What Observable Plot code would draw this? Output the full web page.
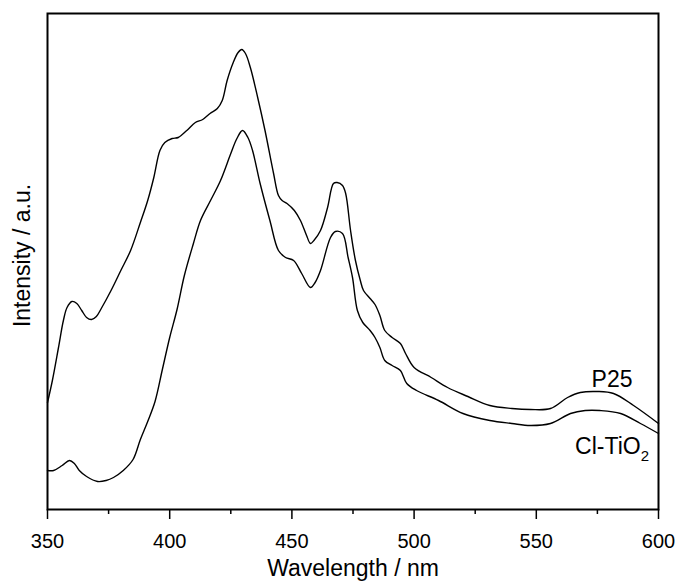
<!DOCTYPE html>
<html><head><meta charset="utf-8">
<script src="https://cdn.jsdelivr.net/npm/d3@7"></script>
<script src="https://cdn.jsdelivr.net/npm/@observablehq/plot@0.6"></script>
<style>body{margin:0;background:#fff} svg{font-family:"Liberation Sans",Arial,sans-serif}</style>
</head><body><div id="chart"></div>
<script>
const p25Wavelength = [350,352,354.5,356.5,358,360,362,364,366,368,370,372,376,380,384,388,391,393.5,396,398,401,403.5,407,410.5,413.5,416.5,419.5,421.5,423.5,426,428,429.5,431,433,436,439,442.5,444.5,446,448,451,453.5,456,457.6,459,461.7,464.6,467,468.5,470.7,472,474,476,478,479.3,482,484,486,488,491,494.4,496.5,500,507,513.7,522,531,540,547.6,555.8,562.8,568,575,581.6,589.8,600];
const p25Intensity = [107,129,162,189,202,208,206,199,192,190,193,201,219,239,259,287,309,332,359,367,371,372,379,387,390,396,401,409,429,447,457,460,456,442,412,379,336,314,309,306,299,289,274,266,269,279,302,326,327,324,316,279,249,229,219,211,205,194,179,172,166,156,142,132,122,113,104,101,100,101,112,117,118,116,104,86];
const clWavelength = [350,352.5,356,359,361,363,366,370.5,374,377,381,385,388,391,394,397,400,403,406,409.7,412.6,416.7,420.8,425,427.5,429.8,432,433.9,437,441,444.5,447.4,450.7,454,457.6,459.5,461.7,465.8,467.8,470.7,473,474.8,476.8,479,482,484,486,488,491,494.4,497,501,510,520,531,540,547.6,555.8,564,570,576,584.5,592.6,600];
const clIntensity = [39,39,44,49,46,39,33,28,29,32,39,50,70,88,108,140,172,200,234,266,289,309,329,356,371,379,372,359,326,289,259,252,249,236,222,227,239,272,278,276,252,232,199,187,179,172,162,149,144,139,126,119,109,96,89,86,84,86,96,99,99,96,86,76];
const majorTicks = [350,400,450,500,550,600];
const minorTicks = [375,425,475,525,575];
const seriesNames = ["P25","Cl-TiO2"];
const labelWavelength = [581,581];
const labelIntensity = [130,63];
const xTitle = "Wavelength / nm";
const yTitle = "Intensity / a.u.";

const p25 = p25Wavelength.map((w,i)=>({w, v:p25Intensity[i]}));
const cl = clWavelength.map((w,i)=>({w, v:clIntensity[i]}));
const labels = seriesNames.map((name,i)=>({name, w:labelWavelength[i], v:labelIntensity[i]}));

const chart = Plot.plot({
  width: 675, height: 581,
  marginLeft: 47, marginRight: 17, marginTop: 13, marginBottom: 72,
  style: {fontFamily: '"Liberation Sans",Arial,sans-serif', background: "white", color: "black"},
  x: {domain: [350,600]},
  y: {domain: [0,496], axis: null},
  marks: [
    Plot.frame({stroke: "black", strokeWidth: 2}),
    Plot.axisX({ticks: majorTicks, tickSize: 10, tickPadding: 14, fontSize: 20, label: null, strokeWidth: 1.5, tickFormat: d=>String(d)}),
    Plot.axisX({ticks: minorTicks, tickSize: 5, text: null, label: null, strokeWidth: 1.5}),
    Plot.line(p25, {x: "w", y: "v", stroke: "black", strokeWidth: 1.4, curve: "catmull-rom"}),
    Plot.line(cl, {x: "w", y: "v", stroke: "black", strokeWidth: 1.4, curve: "catmull-rom"}),
    Plot.text(labels, {x: "w", y: "v", text: "name", fontSize: 23, fill: "black"}),
    Plot.text([yTitle], {frameAnchor: "left", textAnchor: "middle", rotate: -90, dx: -25, dy: -6, fontSize: 23, fill: "black"}),
    Plot.text([xTitle], {frameAnchor: "bottom", textAnchor: "middle", lineAnchor: "middle", dy: 59, fontSize: 23, fill: "black"})
  ]
});
d3.select(chart).selectAll("text").filter(function(){ return this.textContent === "Cl-TiO2"; }).each(function(){
  const t = d3.select(this);
  t.text("Cl-TiO");
  t.append("tspan").attr("font-size", 15).attr("dy", "0.45em").text("2");
});
document.getElementById("chart").appendChild(chart);
</script>
</body></html>
